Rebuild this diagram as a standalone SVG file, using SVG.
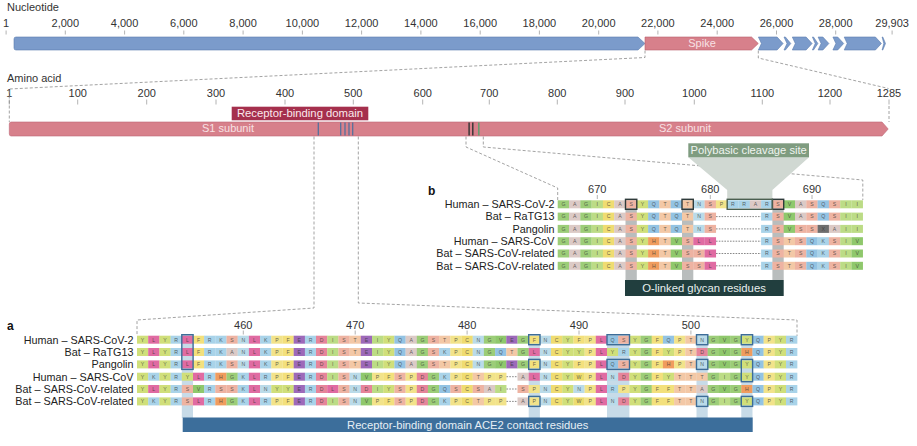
<svg xmlns="http://www.w3.org/2000/svg" width="917" height="446" viewBox="0 0 917 446">
<style>
text{font-family:"Liberation Sans",Arial,sans-serif}
.lbl{font-size:11px;fill:#333}
.mid{text-anchor:middle}
.tk{stroke:#a0a0a0;stroke-width:.8;fill:none}
.dash{fill:none;stroke:#8c8c8c;stroke-width:.8;stroke-dasharray:3 2}
.sp{font-size:10.8px;fill:#222;text-anchor:end}
.aa{font-size:5.2px;fill:#333;fill-opacity:.75;text-anchor:middle}
.ca rect{width:11.35px;height:8px}
.cb rect{width:11.45px;height:8px}
.gap{stroke:#555;stroke-width:.7;stroke-dasharray:1.6 1.2;fill:none}
.A{fill:#dccac6}.R{fill:#a9d3e9}.N{fill:#badbe9}.D{fill:#e6849a}.C{fill:#efdc71}.Q{fill:#93c3e3}.E{fill:#9d69b9}.G{fill:#9ccd78}.H{fill:#f09c5e}.I{fill:#bcdc86}.L{fill:#e06ba2}.K{fill:#a9d3e9}.F{fill:#f3e07c}.P{fill:#f2e38a}.S{fill:#eeb3a2}.T{fill:#f3c8a6}.W{fill:#ecdc6e}.Y{fill:#d0df7a}.V{fill:#8fc86c}.X{fill:#6e6e6e}
.boxa{fill:none;stroke:#3d6d98;stroke-width:1.4}
.boxb{fill:none;stroke:#2f3b3b;stroke-width:1.4}
.ntk{font-size:11px;fill:#333;text-anchor:middle}
</style>

<g id="nucleotide-axis">
<text class="lbl" x="7" y="11">Nucleotide</text>
<path class="tk" d="M6.1,30.5v4M65.3,30.5v4M124.6,30.5v4M183.8,30.5v4M243.1,30.5v4M302.4,30.5v4M361.6,30.5v4M420.9,30.5v4M480.2,30.5v4M539.4,30.5v4M598.7,30.5v4M657.9,30.5v4M717.2,30.5v4M776.5,30.5v4M835.7,30.5v4M892.1,30.5v4"/>
<g class="ntk">
<text x="6.1" y="27.3">1</text><text x="65.3" y="27.3">2,000</text><text x="124.6" y="27.3">4,000</text><text x="183.8" y="27.3">6,000</text><text x="243.1" y="27.3">8,000</text><text x="302.4" y="27.3">10,000</text><text x="361.6" y="27.3">12,000</text><text x="420.9" y="27.3">14,000</text><text x="480.2" y="27.3">16,000</text><text x="539.4" y="27.3">18,000</text><text x="598.7" y="27.3">20,000</text><text x="657.9" y="27.3">22,000</text><text x="717.2" y="27.3">24,000</text><text x="776.5" y="27.3">26,000</text><text x="835.7" y="27.3">28,000</text><text x="892.1" y="27.3">29,903</text>
</g>
</g>

<g id="genome" stroke="#5d7db0" stroke-width=".6" fill="#7b9bcb">
<path d="M16,37H638L645,43.5L638,50H16Q14,50 14,48V39Q14,37 16,37Z"/>
<polygon points="758.4,37 777.1,37 783.1,43.5 777.1,50 758.4,50 761.4,43.5"/>
<polygon points="784,37 785.4,37 790.8,43.5 785.4,50 784,50 787,43.5"/>
<polygon points="792.3,37 806.1,37 812.1,43.5 806.1,50 792.3,50 795.3,43.5"/>
<polygon points="812.4,37 813.5,37 817.9,43.5 813.5,50 812.4,50 815.2,43.5"/>
<polygon points="818.1,37 822.9,37 828.9,43.5 822.9,50 818.1,50 821.1,43.5"/>
<polygon points="832.9,37 837.7,37 843.7,43.5 837.7,50 832.9,50 835.9,43.5"/>
<polygon points="844.2,37 875.4,37 881.4,43.5 875.4,50 844.2,50 847.2,43.5"/>
<polygon points="882.1,37 882.8,37 885.5,43.5 882.8,50 882.1,50 883.8,43.5"/>
</g>
<g id="spike-gene">
<polygon points="645,37 751.5,37 758.3,43.5 751.5,50 645,50" fill="#d7808b" stroke="#b8606d" stroke-width=".6"/>
<text x="702" y="47.3" font-size="11" fill="#f7e1e4" text-anchor="middle">Spike</text>
</g>

<g id="amino-axis">
<text class="lbl" x="7" y="82">Amino acid</text>
<path class="tk" d="M9.3,99.5v5M77.7,99.5v5M146.7,99.5v5M216,99.5v5M285,99.5v5M353.3,99.5v5M422.7,99.5v5M489.3,99.5v5M557.3,99.5v5M625,99.5v5M694.3,99.5v5M762.3,99.5v5M830,99.5v5M889,99.5v5"/>
<g class="ntk">
<text x="9.3" y="97">1</text><text x="77.7" y="97">100</text><text x="146.7" y="97">200</text><text x="216" y="97">300</text><text x="285" y="97">400</text><text x="353.3" y="97">500</text><text x="422.7" y="97">600</text><text x="489.3" y="97">700</text><text x="557.3" y="97">800</text><text x="625" y="97">900</text><text x="694.3" y="97">1000</text><text x="762.3" y="97">1100</text><text x="830" y="97">1200</text><text x="889" y="97">1285</text>
</g>
</g>

<g id="connectors">
<path class="dash" d="M645,50.5V57.5L9.3,89V122"/>
<path class="dash" d="M758.3,50.5V58L888.5,88.5"/>
<path class="dash" d="M889,106V122"/>
<path class="dash" d="M314,136.5V308L137,320V335"/>
<path class="dash" d="M358.3,136.5V303L797,320V336"/>
<path class="dash" d="M466,136.5V147L557.7,188V200"/>
<path class="dash" d="M483.3,136.5V147L862.8,180V200"/>
</g>

<g id="spike-protein">
<path d="M11.3,122H882L888.2,129L882,136H11.3Q9.3,136 9.3,134V124Q9.3,122 11.3,122Z" fill="#d7808b" stroke="#bd6775" stroke-width=".6"/>
<text x="228" y="132.2" font-size="11" fill="#f7e1e4" text-anchor="middle">S1 subunit</text>
<text x="685" y="132.2" font-size="11" fill="#f7e1e4" text-anchor="middle">S2 subunit</text>
<g stroke="#56709c" stroke-width="1.3"><path d="M318.3,122.5V135.5M340.7,122.5V135.5M345,122.5V135.5M349,122.5V135.5M352.7,122.5V135.5"/></g>
<path d="M469.1,122.5V135.5M472.8,122.5V135.5" stroke="#333" stroke-width="1.4"/>
<path d="M478.8,122.5V135.5" stroke="#6a9a70" stroke-width="1.6"/>
</g>

<g id="rbd-label">
<rect x="231.7" y="106.7" width="136.6" height="13.6" fill="#a5304d"/>
<text x="300" y="117.3" font-size="11.3" fill="#fbe9ec" text-anchor="middle">Receptor-binding domain</text>
</g>

<g id="polybasic-label">
<polygon points="688.3,157.3 809,157.3 772.4,190 772.4,199.3 727.2,199.3 727.2,190" fill="#d0d8d2"/>
<rect x="688.3" y="143.3" width="120.7" height="14" fill="#7f9c80"/>
<text x="748.7" y="154.3" font-size="11.2" fill="#f0f4f0" text-anchor="middle">Polybasic cleavage site</text>
</g>

<g id="panel-b">
<text x="428" y="194.5" font-size="12" font-weight="bold" fill="#111">b</text>
<path class="tk" d="M597.3,195v4M710.3,195v4M812,195v4"/>
<text class="ntk" x="597.3" y="193">670</text><text class="ntk" x="710.3" y="193">680</text><text class="ntk" x="812" y="193">690</text>
<g class="sp">
<text x="554.5" y="208.1">Human – SARS-CoV-2</text>
<text x="554.5" y="220.4">Bat – RaTG13</text>
<text x="554.5" y="232.7">Pangolin</text>
<text x="554.5" y="245">Human – SARS-CoV</text>
<text x="554.5" y="257.3">Bat – SARS-CoV-related</text>
<text x="554.5" y="269.6">Bat – SARS-CoV-related</text>
</g>
<g fill="#b9bdbd"><rect x="625.5" y="199" width="11.3" height="81"/><rect x="682" y="199" width="11.3" height="81"/><rect x="772.4" y="199" width="11.3" height="81"/></g>
<g class="cb">
<g transform="translate(0,200.3)"><rect class="G" x="557.7"/><rect class="A" x="569"/><rect class="G" x="580.3"/><rect class="I" x="591.6"/><rect class="C" x="602.9"/><rect class="A" x="614.2"/><rect class="S" x="625.5"/><rect class="Y" x="636.8"/><rect class="Q" x="648.1"/><rect class="T" x="659.4"/><rect class="Q" x="670.7"/><rect class="T" x="682"/><rect class="N" x="693.3"/><rect class="S" x="704.6"/><rect class="P" x="715.9"/><rect class="R" x="727.2"/><rect class="R" x="738.5"/><rect class="A" x="749.8"/><rect class="R" x="761.1"/><rect class="S" x="772.4"/><rect class="V" x="783.7"/><rect class="A" x="795"/><rect class="S" x="806.3"/><rect class="Q" x="817.6"/><rect class="S" x="828.9"/><rect class="I" x="840.2"/><rect class="I" x="851.5"/></g>
<g transform="translate(0,212.6)"><rect class="G" x="557.7"/><rect class="A" x="569"/><rect class="G" x="580.3"/><rect class="I" x="591.6"/><rect class="C" x="602.9"/><rect class="A" x="614.2"/><rect class="S" x="625.5"/><rect class="Y" x="636.8"/><rect class="Q" x="648.1"/><rect class="T" x="659.4"/><rect class="Q" x="670.7"/><rect class="T" x="682"/><rect class="N" x="693.3"/><rect class="S" x="704.6"/><rect class="R" x="761.1"/><rect class="S" x="772.4"/><rect class="V" x="783.7"/><rect class="A" x="795"/><rect class="S" x="806.3"/><rect class="Q" x="817.6"/><rect class="S" x="828.9"/><rect class="I" x="840.2"/><rect class="I" x="851.5"/></g>
<g transform="translate(0,224.9)"><rect class="G" x="557.7"/><rect class="A" x="569"/><rect class="G" x="580.3"/><rect class="I" x="591.6"/><rect class="C" x="602.9"/><rect class="A" x="614.2"/><rect class="S" x="625.5"/><rect class="Y" x="636.8"/><rect class="Q" x="648.1"/><rect class="T" x="659.4"/><rect class="Q" x="670.7"/><rect class="T" x="682"/><rect class="N" x="693.3"/><rect class="S" x="704.6"/><rect class="R" x="761.1"/><rect class="S" x="772.4"/><rect class="V" x="783.7"/><rect class="S" x="795"/><rect class="S" x="806.3"/><rect class="X" x="817.6"/><rect class="A" x="828.9"/><rect class="I" x="840.2"/><rect class="I" x="851.5"/></g>
<g transform="translate(0,237.2)"><rect class="G" x="557.7"/><rect class="A" x="569"/><rect class="G" x="580.3"/><rect class="I" x="591.6"/><rect class="C" x="602.9"/><rect class="A" x="614.2"/><rect class="S" x="625.5"/><rect class="Y" x="636.8"/><rect class="H" x="648.1"/><rect class="T" x="659.4"/><rect class="V" x="670.7"/><rect class="S" x="682"/><rect class="L" x="693.3"/><rect class="L" x="704.6"/><rect class="R" x="761.1"/><rect class="S" x="772.4"/><rect class="T" x="783.7"/><rect class="S" x="795"/><rect class="Q" x="806.3"/><rect class="K" x="817.6"/><rect class="S" x="828.9"/><rect class="I" x="840.2"/><rect class="V" x="851.5"/></g>
<g transform="translate(0,249.5)"><rect class="G" x="557.7"/><rect class="A" x="569"/><rect class="G" x="580.3"/><rect class="I" x="591.6"/><rect class="C" x="602.9"/><rect class="A" x="614.2"/><rect class="S" x="625.5"/><rect class="Y" x="636.8"/><rect class="H" x="648.1"/><rect class="T" x="659.4"/><rect class="V" x="670.7"/><rect class="S" x="682"/><rect class="S" x="693.3"/><rect class="L" x="704.6"/><rect class="R" x="761.1"/><rect class="S" x="772.4"/><rect class="T" x="783.7"/><rect class="S" x="795"/><rect class="Q" x="806.3"/><rect class="K" x="817.6"/><rect class="S" x="828.9"/><rect class="I" x="840.2"/><rect class="V" x="851.5"/></g>
<g transform="translate(0,261.8)"><rect class="G" x="557.7"/><rect class="A" x="569"/><rect class="G" x="580.3"/><rect class="I" x="591.6"/><rect class="C" x="602.9"/><rect class="A" x="614.2"/><rect class="S" x="625.5"/><rect class="Y" x="636.8"/><rect class="H" x="648.1"/><rect class="T" x="659.4"/><rect class="V" x="670.7"/><rect class="S" x="682"/><rect class="S" x="693.3"/><rect class="L" x="704.6"/><rect class="R" x="761.1"/><rect class="S" x="772.4"/><rect class="T" x="783.7"/><rect class="S" x="795"/><rect class="Q" x="806.3"/><rect class="K" x="817.6"/><rect class="S" x="828.9"/><rect class="I" x="840.2"/><rect class="V" x="851.5"/></g>
</g>
<path class="gap" d="M716,216.6H761M716,228.9H761M716,241.2H761M716,253.5H761M716,265.8H761"/>
<g class="aa">
<text x="563.4 574.7 586 597.3 608.6 619.9 631.2 642.5 653.8 665.1 676.4 687.7 699 710.3 721.6 732.9 744.2 755.5 766.8 778.1 789.4 800.7 812 823.3 834.6 845.9 857.2" y="206.1">GAGICASYQTQTNSPRRARSVASQSII</text>
<text x="563.4 574.7 586 597.3 608.6 619.9 631.2 642.5 653.8 665.1 676.4 687.7 699 710.3 721.6 732.9 744.2 755.5 766.8 778.1 789.4 800.7 812 823.3 834.6 845.9 857.2" y="218.4">GAGICASYQTQTNS&#160;&#160;&#160;&#160;RSVASQSII</text>
<text x="563.4 574.7 586 597.3 608.6 619.9 631.2 642.5 653.8 665.1 676.4 687.7 699 710.3 721.6 732.9 744.2 755.5 766.8 778.1 789.4 800.7 812 823.3 834.6 845.9 857.2" y="230.7">GAGICASYQTQTNS&#160;&#160;&#160;&#160;RSVSSXAII</text>
<text x="563.4 574.7 586 597.3 608.6 619.9 631.2 642.5 653.8 665.1 676.4 687.7 699 710.3 721.6 732.9 744.2 755.5 766.8 778.1 789.4 800.7 812 823.3 834.6 845.9 857.2" y="243">GAGICASYHTVSLL&#160;&#160;&#160;&#160;RSTSQKSIV</text>
<text x="563.4 574.7 586 597.3 608.6 619.9 631.2 642.5 653.8 665.1 676.4 687.7 699 710.3 721.6 732.9 744.2 755.5 766.8 778.1 789.4 800.7 812 823.3 834.6 845.9 857.2" y="255.3">GAGICASYHTVSSL&#160;&#160;&#160;&#160;RSTSQKSIV</text>
<text x="563.4 574.7 586 597.3 608.6 619.9 631.2 642.5 653.8 665.1 676.4 687.7 699 710.3 721.6 732.9 744.2 755.5 766.8 778.1 789.4 800.7 812 823.3 834.6 845.9 857.2" y="267.6">GAGICASYHTVSSL&#160;&#160;&#160;&#160;RSTSQKSIV</text>
</g>
<rect class="boxb" x="625.5" y="199.3" width="11.3" height="10"/>
<rect class="boxb" x="682" y="199.3" width="11.3" height="10"/>
<rect class="boxb" x="772.4" y="199.3" width="11.3" height="10"/>
<rect x="727.2" y="199.3" width="45.2" height="10" fill="none" stroke="#4a5f50" stroke-width="1.4"/>
<rect x="625" y="280" width="158.7" height="16" fill="#213e3e"/>
<text x="704" y="292" font-size="11.3" fill="#e8eeee" text-anchor="middle">O-linked glycan residues</text>
</g>

<g id="panel-a">
<text x="7" y="329.5" font-size="12" font-weight="bold" fill="#111">a</text>
<path class="tk" d="M243.3,330.5v4M355.2,330.5v4M467.1,330.5v4M579,330.5v4M690.9,330.5v4"/>
<text class="ntk" x="243.3" y="328.5">460</text><text class="ntk" x="355.2" y="328.5">470</text><text class="ntk" x="467.1" y="328.5">480</text><text class="ntk" x="579" y="328.5">490</text><text class="ntk" x="690.9" y="328.5">500</text>
<g class="sp">
<text x="133.5" y="343.5">Human – SARS-CoV-2</text>
<text x="133.5" y="355.8">Bat – RaTG13</text>
<text x="133.5" y="368.2">Pangolin</text>
<text x="133.5" y="380.5">Human – SARS-CoV</text>
<text x="133.5" y="392.8">Bat – SARS-CoV-related</text>
<text x="133.5" y="405.2">Bat – SARS-CoV-related</text>
</g>
<g fill="#c7dbe8"><rect x="181.8" y="334" width="11.2" height="84"/><rect x="528.7" y="334" width="11.2" height="84"/><rect x="607" y="334" width="22.4" height="84"/><rect x="696.5" y="334" width="11.2" height="84"/><rect x="741.3" y="334" width="11.2" height="84"/></g>
<g class="ca">
<g transform="translate(0,335.7)"><rect class="Y" x="137"/><rect class="L" x="148.2"/><rect class="Y" x="159.4"/><rect class="R" x="170.6"/><rect class="L" x="181.8"/><rect class="F" x="193"/><rect class="R" x="204.1"/><rect class="K" x="215.3"/><rect class="S" x="226.5"/><rect class="N" x="237.7"/><rect class="L" x="248.9"/><rect class="K" x="260.1"/><rect class="P" x="271.3"/><rect class="F" x="282.5"/><rect class="E" x="293.7"/><rect class="R" x="304.9"/><rect class="D" x="316"/><rect class="I" x="327.2"/><rect class="S" x="338.4"/><rect class="T" x="349.6"/><rect class="E" x="360.8"/><rect class="I" x="372"/><rect class="Y" x="383.2"/><rect class="Q" x="394.4"/><rect class="A" x="405.6"/><rect class="G" x="416.8"/><rect class="S" x="427.9"/><rect class="T" x="439.1"/><rect class="P" x="450.3"/><rect class="C" x="461.5"/><rect class="N" x="472.7"/><rect class="G" x="483.9"/><rect class="V" x="495.1"/><rect class="E" x="506.3"/><rect class="G" x="517.5"/><rect class="F" x="528.7"/><rect class="N" x="539.8"/><rect class="C" x="551"/><rect class="Y" x="562.2"/><rect class="F" x="573.4"/><rect class="P" x="584.6"/><rect class="L" x="595.8"/><rect class="Q" x="607"/><rect class="S" x="618.2"/><rect class="Y" x="629.4"/><rect class="G" x="640.6"/><rect class="F" x="651.7"/><rect class="Q" x="662.9"/><rect class="P" x="674.1"/><rect class="T" x="685.3"/><rect class="N" x="696.5"/><rect class="G" x="707.7"/><rect class="V" x="718.9"/><rect class="G" x="730.1"/><rect class="Y" x="741.3"/><rect class="Q" x="752.5"/><rect class="P" x="763.6"/><rect class="Y" x="774.8"/><rect class="R" x="786"/></g>
<g transform="translate(0,348)"><rect class="Y" x="137"/><rect class="L" x="148.2"/><rect class="Y" x="159.4"/><rect class="R" x="170.6"/><rect class="L" x="181.8"/><rect class="F" x="193"/><rect class="R" x="204.1"/><rect class="K" x="215.3"/><rect class="A" x="226.5"/><rect class="N" x="237.7"/><rect class="L" x="248.9"/><rect class="K" x="260.1"/><rect class="P" x="271.3"/><rect class="F" x="282.5"/><rect class="E" x="293.7"/><rect class="R" x="304.9"/><rect class="D" x="316"/><rect class="I" x="327.2"/><rect class="S" x="338.4"/><rect class="T" x="349.6"/><rect class="E" x="360.8"/><rect class="I" x="372"/><rect class="Y" x="383.2"/><rect class="Q" x="394.4"/><rect class="A" x="405.6"/><rect class="G" x="416.8"/><rect class="S" x="427.9"/><rect class="K" x="439.1"/><rect class="P" x="450.3"/><rect class="C" x="461.5"/><rect class="N" x="472.7"/><rect class="G" x="483.9"/><rect class="Q" x="495.1"/><rect class="T" x="506.3"/><rect class="G" x="517.5"/><rect class="L" x="528.7"/><rect class="N" x="539.8"/><rect class="C" x="551"/><rect class="Y" x="562.2"/><rect class="Y" x="573.4"/><rect class="P" x="584.6"/><rect class="L" x="595.8"/><rect class="Y" x="607"/><rect class="R" x="618.2"/><rect class="Y" x="629.4"/><rect class="G" x="640.6"/><rect class="F" x="651.7"/><rect class="Y" x="662.9"/><rect class="P" x="674.1"/><rect class="T" x="685.3"/><rect class="D" x="696.5"/><rect class="G" x="707.7"/><rect class="V" x="718.9"/><rect class="G" x="730.1"/><rect class="H" x="741.3"/><rect class="Q" x="752.5"/><rect class="P" x="763.6"/><rect class="Y" x="774.8"/><rect class="R" x="786"/></g>
<g transform="translate(0,360.4)"><rect class="Y" x="137"/><rect class="L" x="148.2"/><rect class="Y" x="159.4"/><rect class="R" x="170.6"/><rect class="L" x="181.8"/><rect class="F" x="193"/><rect class="R" x="204.1"/><rect class="K" x="215.3"/><rect class="S" x="226.5"/><rect class="N" x="237.7"/><rect class="L" x="248.9"/><rect class="K" x="260.1"/><rect class="P" x="271.3"/><rect class="F" x="282.5"/><rect class="E" x="293.7"/><rect class="R" x="304.9"/><rect class="D" x="316"/><rect class="I" x="327.2"/><rect class="S" x="338.4"/><rect class="T" x="349.6"/><rect class="E" x="360.8"/><rect class="I" x="372"/><rect class="Y" x="383.2"/><rect class="Q" x="394.4"/><rect class="A" x="405.6"/><rect class="G" x="416.8"/><rect class="S" x="427.9"/><rect class="T" x="439.1"/><rect class="P" x="450.3"/><rect class="C" x="461.5"/><rect class="N" x="472.7"/><rect class="G" x="483.9"/><rect class="V" x="495.1"/><rect class="E" x="506.3"/><rect class="G" x="517.5"/><rect class="F" x="528.7"/><rect class="N" x="539.8"/><rect class="C" x="551"/><rect class="Y" x="562.2"/><rect class="F" x="573.4"/><rect class="P" x="584.6"/><rect class="L" x="595.8"/><rect class="Q" x="607"/><rect class="S" x="618.2"/><rect class="Y" x="629.4"/><rect class="G" x="640.6"/><rect class="F" x="651.7"/><rect class="H" x="662.9"/><rect class="P" x="674.1"/><rect class="T" x="685.3"/><rect class="N" x="696.5"/><rect class="G" x="707.7"/><rect class="V" x="718.9"/><rect class="G" x="730.1"/><rect class="Y" x="741.3"/><rect class="Q" x="752.5"/><rect class="P" x="763.6"/><rect class="Y" x="774.8"/><rect class="R" x="786"/></g>
<g transform="translate(0,372.7)"><rect class="Y" x="137"/><rect class="K" x="148.2"/><rect class="Y" x="159.4"/><rect class="R" x="170.6"/><rect class="Y" x="181.8"/><rect class="L" x="193"/><rect class="R" x="204.1"/><rect class="H" x="215.3"/><rect class="G" x="226.5"/><rect class="K" x="237.7"/><rect class="L" x="248.9"/><rect class="R" x="260.1"/><rect class="P" x="271.3"/><rect class="F" x="282.5"/><rect class="E" x="293.7"/><rect class="R" x="304.9"/><rect class="D" x="316"/><rect class="I" x="327.2"/><rect class="S" x="338.4"/><rect class="N" x="349.6"/><rect class="V" x="360.8"/><rect class="P" x="372"/><rect class="F" x="383.2"/><rect class="S" x="394.4"/><rect class="P" x="405.6"/><rect class="D" x="416.8"/><rect class="G" x="427.9"/><rect class="K" x="439.1"/><rect class="P" x="450.3"/><rect class="C" x="461.5"/><rect class="T" x="472.7"/><rect class="P" x="483.9"/><rect class="P" x="495.1"/><rect class="A" x="517.5"/><rect class="L" x="528.7"/><rect class="N" x="539.8"/><rect class="C" x="551"/><rect class="Y" x="562.2"/><rect class="W" x="573.4"/><rect class="P" x="584.6"/><rect class="L" x="595.8"/><rect class="N" x="607"/><rect class="D" x="618.2"/><rect class="Y" x="629.4"/><rect class="G" x="640.6"/><rect class="F" x="651.7"/><rect class="Y" x="662.9"/><rect class="T" x="674.1"/><rect class="T" x="685.3"/><rect class="T" x="696.5"/><rect class="G" x="707.7"/><rect class="I" x="718.9"/><rect class="G" x="730.1"/><rect class="Y" x="741.3"/><rect class="Q" x="752.5"/><rect class="P" x="763.6"/><rect class="Y" x="774.8"/><rect class="R" x="786"/></g>
<g transform="translate(0,385)"><rect class="Y" x="137"/><rect class="L" x="148.2"/><rect class="Y" x="159.4"/><rect class="R" x="170.6"/><rect class="S" x="181.8"/><rect class="V" x="193"/><rect class="R" x="204.1"/><rect class="S" x="215.3"/><rect class="S" x="226.5"/><rect class="K" x="237.7"/><rect class="L" x="248.9"/><rect class="N" x="260.1"/><rect class="Y" x="271.3"/><rect class="Y" x="282.5"/><rect class="E" x="293.7"/><rect class="R" x="304.9"/><rect class="D" x="316"/><rect class="L" x="327.2"/><rect class="S" x="338.4"/><rect class="N" x="349.6"/><rect class="D" x="360.8"/><rect class="I" x="372"/><rect class="Y" x="383.2"/><rect class="S" x="394.4"/><rect class="P" x="405.6"/><rect class="D" x="416.8"/><rect class="G" x="427.9"/><rect class="Q" x="439.1"/><rect class="S" x="450.3"/><rect class="C" x="461.5"/><rect class="S" x="472.7"/><rect class="A" x="483.9"/><rect class="I" x="495.1"/><rect class="S" x="517.5"/><rect class="P" x="528.7"/><rect class="N" x="539.8"/><rect class="C" x="551"/><rect class="Y" x="562.2"/><rect class="N" x="573.4"/><rect class="P" x="584.6"/><rect class="L" x="595.8"/><rect class="R" x="607"/><rect class="P" x="618.2"/><rect class="Y" x="629.4"/><rect class="G" x="640.6"/><rect class="F" x="651.7"/><rect class="F" x="662.9"/><rect class="T" x="674.1"/><rect class="T" x="685.3"/><rect class="A" x="696.5"/><rect class="G" x="707.7"/><rect class="V" x="718.9"/><rect class="G" x="730.1"/><rect class="H" x="741.3"/><rect class="Q" x="752.5"/><rect class="P" x="763.6"/><rect class="Y" x="774.8"/><rect class="R" x="786"/></g>
<g transform="translate(0,397.4)"><rect class="Y" x="137"/><rect class="K" x="148.2"/><rect class="Y" x="159.4"/><rect class="R" x="170.6"/><rect class="S" x="181.8"/><rect class="L" x="193"/><rect class="R" x="204.1"/><rect class="H" x="215.3"/><rect class="G" x="226.5"/><rect class="K" x="237.7"/><rect class="L" x="248.9"/><rect class="R" x="260.1"/><rect class="P" x="271.3"/><rect class="F" x="282.5"/><rect class="E" x="293.7"/><rect class="R" x="304.9"/><rect class="D" x="316"/><rect class="I" x="327.2"/><rect class="S" x="338.4"/><rect class="N" x="349.6"/><rect class="V" x="360.8"/><rect class="P" x="372"/><rect class="F" x="383.2"/><rect class="S" x="394.4"/><rect class="P" x="405.6"/><rect class="D" x="416.8"/><rect class="G" x="427.9"/><rect class="K" x="439.1"/><rect class="P" x="450.3"/><rect class="C" x="461.5"/><rect class="T" x="472.7"/><rect class="P" x="483.9"/><rect class="P" x="495.1"/><rect class="A" x="517.5"/><rect class="P" x="528.7"/><rect class="N" x="539.8"/><rect class="C" x="551"/><rect class="Y" x="562.2"/><rect class="W" x="573.4"/><rect class="P" x="584.6"/><rect class="L" x="595.8"/><rect class="N" x="607"/><rect class="D" x="618.2"/><rect class="Y" x="629.4"/><rect class="G" x="640.6"/><rect class="F" x="651.7"/><rect class="F" x="662.9"/><rect class="T" x="674.1"/><rect class="T" x="685.3"/><rect class="N" x="696.5"/><rect class="G" x="707.7"/><rect class="I" x="718.9"/><rect class="G" x="730.1"/><rect class="Y" x="741.3"/><rect class="Q" x="752.5"/><rect class="P" x="763.6"/><rect class="Y" x="774.8"/><rect class="R" x="786"/></g>
</g>
<path class="gap" d="M506.5,376.7H517.3M506.5,389H517.3M506.5,401.4H517.3"/>
<g class="aa">
<text x="142.6 153.8 165 176.2 187.4 198.6 209.7 220.9 232.1 243.3 254.5 265.7 276.9 288.1 299.3 310.5 321.6 332.8 344 355.2 366.4 377.6 388.8 400 411.2 422.4 433.5 444.7 455.9 467.1 478.3 489.5 500.7 511.9 523.1 534.3 545.4 556.6 567.8 579 590.2 601.4 612.6 623.8 635 646.2 657.3 668.5 679.7 690.9 702.1 713.3 724.5 735.7 746.9 758.1 769.2 780.4 791.6" y="341.5">YLYRLFRKSNLKPFERDISTEIYQAGSTPCNGVEGFNCYFPLQSYGFQPTNGVGYQPYR</text>
<text x="142.6 153.8 165 176.2 187.4 198.6 209.7 220.9 232.1 243.3 254.5 265.7 276.9 288.1 299.3 310.5 321.6 332.8 344 355.2 366.4 377.6 388.8 400 411.2 422.4 433.5 444.7 455.9 467.1 478.3 489.5 500.7 511.9 523.1 534.3 545.4 556.6 567.8 579 590.2 601.4 612.6 623.8 635 646.2 657.3 668.5 679.7 690.9 702.1 713.3 724.5 735.7 746.9 758.1 769.2 780.4 791.6" y="353.8">YLYRLFRKANLKPFERDISTEIYQAGSKPCNGQTGLNCYYPLYRYGFYPTDGVGHQPYR</text>
<text x="142.6 153.8 165 176.2 187.4 198.6 209.7 220.9 232.1 243.3 254.5 265.7 276.9 288.1 299.3 310.5 321.6 332.8 344 355.2 366.4 377.6 388.8 400 411.2 422.4 433.5 444.7 455.9 467.1 478.3 489.5 500.7 511.9 523.1 534.3 545.4 556.6 567.8 579 590.2 601.4 612.6 623.8 635 646.2 657.3 668.5 679.7 690.9 702.1 713.3 724.5 735.7 746.9 758.1 769.2 780.4 791.6" y="366.2">YLYRLFRKSNLKPFERDISTEIYQAGSTPCNGVEGFNCYFPLQSYGFHPTNGVGYQPYR</text>
<text x="142.6 153.8 165 176.2 187.4 198.6 209.7 220.9 232.1 243.3 254.5 265.7 276.9 288.1 299.3 310.5 321.6 332.8 344 355.2 366.4 377.6 388.8 400 411.2 422.4 433.5 444.7 455.9 467.1 478.3 489.5 500.7 511.9 523.1 534.3 545.4 556.6 567.8 579 590.2 601.4 612.6 623.8 635 646.2 657.3 668.5 679.7 690.9 702.1 713.3 724.5 735.7 746.9 758.1 769.2 780.4 791.6" y="378.5">YKYRYLRHGKLRPFERDISNVPFSPDGKPCTPP&#160;ALNCYWPLNDYGFYTTTGIGYQPYR</text>
<text x="142.6 153.8 165 176.2 187.4 198.6 209.7 220.9 232.1 243.3 254.5 265.7 276.9 288.1 299.3 310.5 321.6 332.8 344 355.2 366.4 377.6 388.8 400 411.2 422.4 433.5 444.7 455.9 467.1 478.3 489.5 500.7 511.9 523.1 534.3 545.4 556.6 567.8 579 590.2 601.4 612.6 623.8 635 646.2 657.3 668.5 679.7 690.9 702.1 713.3 724.5 735.7 746.9 758.1 769.2 780.4 791.6" y="390.8">YLYRSVRSSKLNYYERDLSNDIYSPDGQSCSAI&#160;SPNCYNPLRPYGFFTTAGVGHQPYR</text>
<text x="142.6 153.8 165 176.2 187.4 198.6 209.7 220.9 232.1 243.3 254.5 265.7 276.9 288.1 299.3 310.5 321.6 332.8 344 355.2 366.4 377.6 388.8 400 411.2 422.4 433.5 444.7 455.9 467.1 478.3 489.5 500.7 511.9 523.1 534.3 545.4 556.6 567.8 579 590.2 601.4 612.6 623.8 635 646.2 657.3 668.5 679.7 690.9 702.1 713.3 724.5 735.7 746.9 758.1 769.2 780.4 791.6" y="403.2">YKYRSLRHGKLRPFERDISNVPFSPDGKPCTPP&#160;APNCYWPLNDYGFFTTNGIGYQPYR</text>
</g>
<rect class="boxa" x="181.8" y="334.7" width="11.3" height="34.7"/>
<rect class="boxa" x="528.7" y="334.7" width="11.3" height="10"/>
<rect class="boxa" x="528.7" y="359.4" width="11.3" height="10"/>
<rect class="boxa" x="528.7" y="396.4" width="11.3" height="10"/>
<rect class="boxa" x="607" y="334.7" width="22.5" height="10"/>
<rect class="boxa" x="607" y="359.4" width="22.5" height="10"/>
<rect class="boxa" x="696.5" y="334.7" width="11.3" height="10"/>
<rect class="boxa" x="696.5" y="359.4" width="11.3" height="10"/>
<rect class="boxa" x="696.5" y="396.4" width="11.3" height="10"/>
<rect class="boxa" x="741.3" y="334.7" width="11.3" height="10"/>
<rect class="boxa" x="741.3" y="359.4" width="11.3" height="22.3"/>
<rect class="boxa" x="741.3" y="396.4" width="11.3" height="10"/>
<rect x="182.7" y="417.5" width="570" height="14.5" fill="#3c6e9b"/>
<text x="467.7" y="428.6" font-size="11.2" fill="#e6eef5" text-anchor="middle">Receptor-binding domain ACE2 contact residues</text>
</g>
</svg>
